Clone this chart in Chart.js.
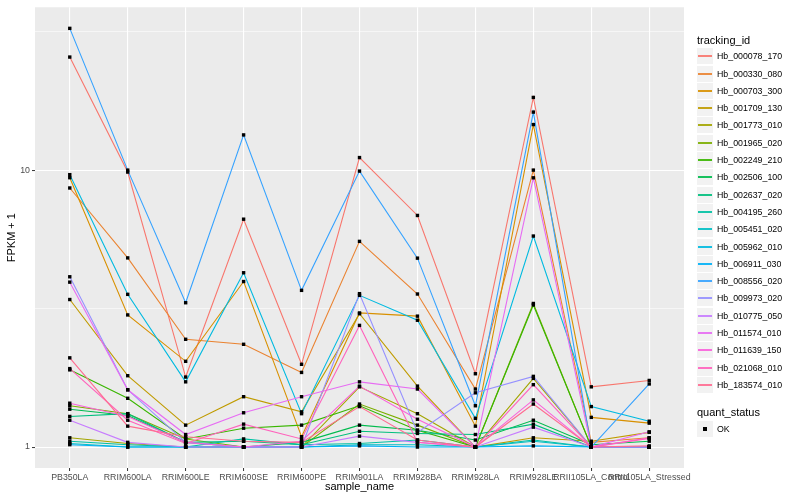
<!DOCTYPE html>
<html>
<head>
<meta charset="utf-8">
<script src="https://cdn.jsdelivr.net/npm/chart.js@4.4.0/dist/chart.umd.min.js"></script>
<style>
html, body { margin: 0; padding: 0; background: #fff; }
#wrap { position: relative; width: 800px; height: 500px; font-family: "Liberation Sans", Arial, sans-serif; }
#chart { position: absolute; left: 0; top: 0; }
.lg-title { position: absolute; left: 697px; font-size: 11px; color: #000; line-height: 13px; }
.lg-row { position: absolute; left: 697px; height: 17px; }
.lg-key { position: absolute; left: 0; top: 0; width: 16px; height: 16px; background: #f2f2f2; }
.lg-line { position: absolute; left: 1px; top: 7px; width: 14px; height: 2px; opacity: 0.9; }
.lg-dot { position: absolute; left: 6px; top: 6px; width: 4px; height: 4px; background: #000; }
.lg-text { position: absolute; left: 20px; top: 2px; font-size: 8.8px; color: #000; white-space: nowrap; line-height: 12px; }
</style>
</head>
<body>
<div id="wrap">
  <canvas id="chart" width="800" height="500"></canvas>
  <div id="legend"></div>
</div>
<script>
// samples on the x axis
const categories = ["PB350LA", "RRIM600LA", "RRIM600LE", "RRIM600SE", "RRIM600PE", "RRIM901LA",
                    "RRIM928BA", "RRIM928LA", "RRIM928LE", "RRII105LA_Control", "RRII105LA_Stressed"];

const trackingIds = ["Hb_000078_170", "Hb_000330_080", "Hb_000703_300", "Hb_001709_130", "Hb_001773_010",
                     "Hb_001965_020", "Hb_002249_210", "Hb_002506_100", "Hb_002637_020", "Hb_004195_260",
                     "Hb_005451_020", "Hb_005962_010", "Hb_006911_030", "Hb_008556_020", "Hb_009973_020",
                     "Hb_010775_050", "Hb_011574_010", "Hb_011639_150", "Hb_021068_010", "Hb_183574_010"];

const colors = ["#F8766D", "#EA8331", "#D89000", "#C09B00", "#A3A500", "#7CAE00", "#39B600", "#00BB4E",
                "#00BF7D", "#00C1A3", "#00BFC4", "#00BAE0", "#00B0F6", "#35A2FF", "#9590FF", "#C77CFF",
                "#E76BF3", "#FA62DB", "#FF62BC", "#FF6C91"];

// FPKM + 1 per sample
const hb_000078_170 = [25.6, 9.84, 1.79, 6.65, 1.99, 11.1, 6.86, 1.84, 18.3, 1.65, 1.74];
const hb_000330_080 = [8.62, 4.82, 2.45, 2.35, 1.86, 5.53, 3.57, 1.62, 10.0, 1.04, 1.08];
const hb_000703_300 = [9.39, 3.00, 2.04, 3.96, 1.09, 3.05, 2.97, 1.19, 14.6, 1.28, 1.22];
const hb_001709_130 = [3.41, 1.81, 1.20, 1.52, 1.34, 3.03, 1.66, 1.00, 1.08, 1.05, 1.13];
const hb_001773_010 = [1.08, 1.03, 1.00, 1.00, 1.00, 1.65, 1.32, 1.00, 1.77, 1.00, 1.00];
const hb_001965_020 = [1.41, 1.32, 1.07, 1.00, 1.00, 1.43, 1.20, 1.00, 3.30, 1.00, 1.00];
const hb_002249_210 = [1.90, 1.50, 1.07, 1.17, 1.20, 1.41, 1.15, 1.00, 3.26, 1.00, 1.00];
const hb_002506_100 = [1.37, 1.30, 1.04, 1.00, 1.04, 1.20, 1.15, 1.06, 1.25, 1.02, 1.05];
const hb_002637_020 = [1.29, 1.32, 1.04, 1.05, 1.02, 1.14, 1.12, 1.11, 1.21, 1.00, 1.00];
const hb_004195_260 = [1.05, 1.02, 1.00, 1.07, 1.02, 1.03, 1.06, 1.00, 1.06, 1.00, 1.00];
const hb_005451_020 = [1.03, 1.00, 1.00, 1.00, 1.00, 1.02, 1.02, 1.00, 1.05, 1.00, 1.00];
const hb_005962_010 = [9.63, 3.56, 1.72, 4.26, 1.32, 3.53, 2.87, 1.27, 5.78, 1.40, 1.24];
const hb_006911_030 = [1.02, 1.00, 1.00, 1.00, 1.00, 1.01, 1.00, 1.00, 1.01, 1.00, 1.00];
const hb_008556_020 = [32.5, 10.0, 3.32, 13.4, 3.68, 9.92, 4.81, 1.41, 16.2, 1.00, 1.69];
const hb_009973_020 = [4.12, 1.61, 1.04, 1.00, 1.00, 3.58, 1.13, 1.57, 1.80, 1.00, 1.00];
const hb_010775_050 = [1.25, 1.04, 1.00, 1.00, 1.00, 1.095, 1.04, 1.00, 1.18, 1.00, 1.00];
const hb_011574_010 = [3.94, 1.61, 1.11, 1.33, 1.52, 1.72, 1.62, 1.00, 9.38, 1.00, 1.135];
const hb_011639_150 = [1.44, 1.29, 1.04, 1.00, 1.05, 1.66, 1.26, 1.00, 1.48, 1.00, 1.08];
const hb_021068_010 = [1.92, 1.25, 1.03, 1.21, 1.07, 2.75, 1.04, 1.00, 1.68, 1.00, 1.075];
const hb_183574_010 = [2.10, 1.19, 1.09, 1.05, 1.04, 1.40, 1.06, 1.00, 1.43, 1.00, 1.01];

const seriesValues = [hb_000078_170, hb_000330_080, hb_000703_300, hb_001709_130, hb_001773_010,
                      hb_001965_020, hb_002249_210, hb_002506_100, hb_002637_020, hb_004195_260,
                      hb_005451_020, hb_005962_010, hb_006911_030, hb_008556_020, hb_009973_020,
                      hb_010775_050, hb_011574_010, hb_011639_150, hb_021068_010, hb_183574_010];

const yMajorTicks = [1, 10];
const yMinorTicks = [3.1623, 31.623];
const quantStatus = ["OK"];

const isMajor = v => yMajorTicks.includes(v);

// grey panel like ggplot's theme_grey
const panelBg = {
    id: "panelBg",
    beforeDraw(chart) {
        const a = chart.chartArea;
        chart.ctx.save();
        chart.ctx.fillStyle = "#EBEBEB";
        chart.ctx.fillRect(a.left, a.top, a.right - a.left, a.bottom - a.top);
        chart.ctx.restore();
    }
};

// points go above every line (geom_point after geom_line)
const pointsOnTop = {
    id: "pointsOnTop",
    afterDatasetsDraw(chart) {
        const ctx = chart.ctx;
        ctx.save();
        ctx.fillStyle = "#000";
        chart.data.datasets.forEach((ds, i) => {
            chart.getDatasetMeta(i).data.forEach(pt => {
                ctx.fillRect(pt.x - 1.7, pt.y - 1.7, 3.4, 3.4);
            });
        });
        ctx.restore();
    }
};

const datasets = seriesValues.map((vals, i) => ({
    label:       trackingIds[i],
    data:        vals.map((v, j) => ({ x: j, y: v })),
    borderColor: colors[i],
    borderWidth: 1.1,
    pointRadius: 0,
    tension:     0,
    fill:        false,
    order:       seriesValues.length - i,
}));

const tickFont = { family: "'Liberation Sans', Arial, sans-serif", size: 8.8 };

new Chart(document.getElementById("chart"), {
    type: "line",
    data: { datasets },
    options: {
        responsive: false,
        animation:  false,
        devicePixelRatio: 1,
        layout: { padding: { left: 0, right: 116, top: 5, bottom: 0 } },
        scales: {
            x: {
                type: "linear",
                min: -0.6,
                max: categories.length - 1 + 0.6,
                afterBuildTicks: s => { s.ticks = categories.map((c, i) => ({ value: i })); },
                afterFit: s => { s.height = 32; },
                ticks: {
                    callback: v => categories[v],
                    color: "#4D4D4D", font: tickFont,
                    autoSkip: false, maxRotation: 0, minRotation: 0, padding: 1,
                },
                grid:   { color: "#FFFFFF", lineWidth: 1.1, tickColor: "#333333", tickLength: 3, tickWidth: 1 },
                border: { display: false },
                title:  { display: true, text: "sample_name", color: "#000",
                          font: { family: "'Liberation Sans', Arial, sans-serif", size: 11 },
                          padding: { top: 0, bottom: 6 } },
            },
            y: {
                type: "logarithmic",
                min: Math.pow(10, -0.0756),
                max: Math.pow(10, 1.588),
                afterBuildTicks: s => {
                    s.ticks = yMajorTicks.concat(yMinorTicks).sort((a, b) => a - b).map(v => ({ value: v }));
                },
                afterFit: s => { s.width = 35; },
                ticks: {
                    callback: v => isMajor(v) ? String(v) : "",
                    color: "#4D4D4D", font: tickFont, padding: 2,
                },
                grid: {
                    color: "#FFFFFF",
                    lineWidth: c => (c.tick && isMajor(c.tick.value)) ? 1.1 : 0.55,
                    tickColor: c => (c.tick && isMajor(c.tick.value)) ? "#333333" : "rgba(0,0,0,0)",
                    tickLength: 3, tickWidth: 1,
                },
                border: { display: false },
                title: { display: true, text: "FPKM + 1", color: "#000",
                         font: { family: "'Liberation Sans', Arial, sans-serif", size: 11 },
                         padding: { top: 5, bottom: 0 } },
            },
        },
        plugins: {
            legend:  { display: false },
            tooltip: { enabled: false },
        },
    },
    plugins: [panelBg, pointsOnTop],
});

// legend on the right, built from the same arrays
const legend = document.getElementById("legend");
let html = `<div class="lg-title" style="top:34px">tracking_id</div>`;
trackingIds.forEach((id, i) => {
    const top = Math.round(48.2 + i * 17.3);
    html += `<div class="lg-row" style="top:${top}px"><div class="lg-key"><div class="lg-line" style="background:${colors[i]}"></div></div><div class="lg-text">${id}</div></div>`;
});
html += `<div class="lg-title" style="top:406px">quant_status</div>`;
quantStatus.forEach((q, i) => {
    html += `<div class="lg-row" style="top:${421 + i * 17}px"><div class="lg-key"><div class="lg-dot"></div></div><div class="lg-text">${q}</div></div>`;
});
legend.innerHTML = html;
</script>
</body>
</html>
